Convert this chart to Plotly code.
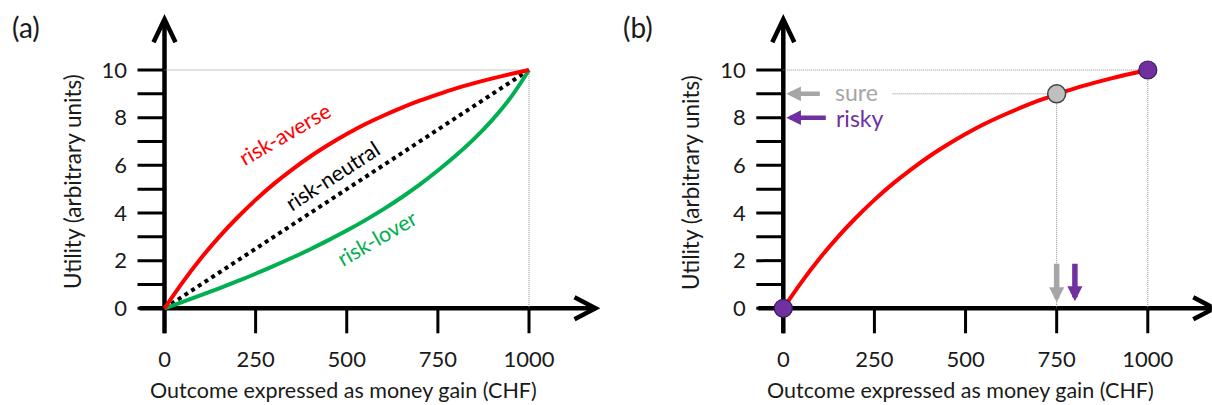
import plotly.graph_objects as go

# ---------------- data ----------------
money_ticks = [0, 250, 500, 750, 1000]
utility_ticks = [0, 2, 4, 6, 8, 10]
utility_tick_marks = [0, 1, 2, 3, 4, 5, 6, 7, 8, 9, 10]

gain = [0, 50, 100, 150, 200, 250, 300, 350, 400, 450, 500,
        550, 600, 650, 700, 750, 800, 850, 900, 950, 1000]
u_averse = [0, 1.10, 2.10, 3.00, 3.81, 4.55, 5.22, 5.82, 6.37, 6.86, 7.31,
            7.72, 8.08, 8.41, 8.71, 8.98, 9.23, 9.45, 9.65, 9.83, 10]
u_lover = [0, 0.27, 0.55, 0.84, 1.14, 1.45, 1.78, 2.12, 2.48, 2.86, 3.26,
           3.69, 4.15, 4.65, 5.19, 5.78, 6.42, 7.12, 7.92, 8.85, 10]
neutral_gain = [0, 1000]
u_neutral = [0, 10]

sure_gain = 750
sure_utility = 9
risky_gain = [0, 1000]
risky_utility = [0, 10]
risky_expected_gain = 800
risky_expected_utility = 8

# ---------------- styling / geometry ----------------
W, H = 1212, 405
FONT = "Lato"
TXT = "#1a1a1a"
RED = "#FF0000"
GREEN = "#00B050"
PURPLE = "#7030A0"
GREY = "#A6A6A6"
GUIDE = "#8c8c8c"

PX_X = 0.3645       # pixels per CHF
PX_Y = 23.83        # pixels per utility unit
OY = 308.3          # pixel row of utility 0
OXA, OXB = 164.5, 783.3   # pixel column of CHF 0 in each panel
Y_RANGE = [-1.5, 12.5]
XA_RANGE = [-100, 1200]
XB_RANGE = [-100, (W - OXB) / PX_X - 0.5]


def xdom(ox, rng):
    return [max(0, (ox + rng[0] * PX_X) / W), min(1, (ox + rng[1] * PX_X) / W)]


ydom = [1 - (OY - Y_RANGE[0] * PX_Y) / H, 1 - (OY - Y_RANGE[1] * PX_Y) / H]

fig = go.Figure()


def guide(xs, ys, xa, ya):
    fig.add_trace(go.Scatter(x=xs, y=ys, mode="lines", xaxis=xa, yaxis=ya,
                             line=dict(color=GUIDE, width=1, dash="1px,1px"),
                             hoverinfo="skip", showlegend=False))


# ---- panel (a) ----
guide([neutral_gain[0], neutral_gain[-1]], [u_neutral[-1], u_neutral[-1]], "x", "y")
guide([neutral_gain[-1], neutral_gain[-1]], [u_neutral[-1], u_neutral[0]], "x", "y")
fig.add_trace(go.Scatter(x=neutral_gain, y=u_neutral, mode="lines", xaxis="x", yaxis="y",
                         line=dict(color="black", width=4, dash="4px,4px"), showlegend=False))
fig.add_trace(go.Scatter(x=gain, y=u_lover, mode="lines", xaxis="x", yaxis="y",
                         line=dict(color=GREEN, width=4, shape="spline", smoothing=1),
                         showlegend=False))
fig.add_trace(go.Scatter(x=gain, y=u_averse, mode="lines", xaxis="x", yaxis="y",
                         line=dict(color=RED, width=4, shape="spline", smoothing=1),
                         showlegend=False))

# ---- panel (b) ----
guide([risky_gain[0], risky_gain[-1]], [risky_utility[-1], risky_utility[-1]], "x2", "y2")
guide([risky_gain[-1], risky_gain[-1]], [risky_utility[-1], risky_utility[0]], "x2", "y2")
guide([sure_gain, sure_gain], [sure_utility, 0], "x2", "y2")
guide([300, sure_gain], [sure_utility, sure_utility], "x2", "y2")
fig.add_trace(go.Scatter(x=gain, y=u_averse, mode="lines", xaxis="x2", yaxis="y2",
                         line=dict(color=RED, width=4, shape="spline", smoothing=1),
                         showlegend=False))
fig.add_trace(go.Scatter(x=[sure_gain], y=[sure_utility], mode="markers", xaxis="x2", yaxis="y2",
                         marker=dict(size=18, color="#BFBFBF", line=dict(color="#404040", width=1.5)),
                         showlegend=False))
fig.add_trace(go.Scatter(x=risky_gain, y=risky_utility, mode="markers", xaxis="x2", yaxis="y2",
                         marker=dict(size=18, color=PURPLE, line=dict(color="#3a1a55", width=1.2)),
                         showlegend=False, cliponaxis=False))

# ---- hand-drawn style axes (shapes) ----
shapes = []
for xr, yr in (("x", "y"), ("x2", "y2")):
    common = dict(xref=xr, yref=yr, layer="below", xsizemode="pixel", ysizemode="pixel",
                  xanchor=0, yanchor=0)
    shapes.append(dict(type="line", x0=0, x1=0, y0=-25, y1=288,
                       line=dict(color="black", width=4.5), **common))
    shapes.append(dict(type="path", path="M -11,266 L 0,289 L 11,266",
                       line=dict(color="black", width=4.5), **common))
    shapes.append(dict(type="line", x0=-25, x1=429, y0=0, y1=0,
                       line=dict(color="black", width=4.5), **common))
    shapes.append(dict(type="path", path="M 410,11 L 431,0 L 410,-11",
                       line=dict(color="black", width=4.5), **common))
    for v in utility_tick_marks:
        shapes.append(dict(type="line", xref=xr, yref=yr, layer="below",
                           xsizemode="pixel", xanchor=0, x0=-27, x1=0, y0=v, y1=v,
                           line=dict(color="black", width=3)))
    for v in money_ticks:
        shapes.append(dict(type="line", xref=xr, yref=yr, layer="below",
                           ysizemode="pixel", yanchor=0, y0=0, y1=-25, x0=v, x1=v,
                           line=dict(color="black", width=3)))

# ---- annotations ----
ann = []


def ptext(text, xc, yc, size, angle=0):
    ann.append(dict(text=text, x=xc / W, y=1 - yc / H, xref="paper", yref="paper",
                    xanchor="center", yanchor="middle", textangle=angle, showarrow=False,
                    font=dict(family=FONT, size=size, color=TXT)))


ptext("(a)", 26, 27, 28)
ptext("(b)", 638, 27, 28)
for xc in (72, 690):
    ptext("Utility (arbitrary units)", xc, 182, 22.5, -90)
for xc in (343, 960):
    ptext("Outcome expressed as money gain (CHF)", xc, 390, 21.5)

ann.append(dict(text="risk-averse", x=330, y=7.3, xref="x", yref="y", textangle=-30,
                xanchor="center", yanchor="middle",
                showarrow=False, font=dict(family=FONT, size=21.5, color=RED)))
ann.append(dict(text="risk-neutral", x=460, y=5.55, xref="x", yref="y", textangle=-33,
                xanchor="center", yanchor="middle",
                showarrow=False, font=dict(family=FONT, size=21.5, color="black")))
ann.append(dict(text="risk-lover", x=583, y=2.95, xref="x", yref="y", textangle=-30,
                xanchor="center", yanchor="middle",
                showarrow=False, font=dict(family=FONT, size=21.5, color=GREEN)))

# sure / risky arrows at the utility axis
ann.append(dict(text="", x=0, y=sure_utility, xref="x2", yref="y2", ax=38, ay=0,
                showarrow=True, arrowhead=2, arrowwidth=4.5, arrowsize=0.65,
                arrowcolor=GREY, standoff=3))
ann.append(dict(text="", x=0, y=risky_expected_utility, xref="x2", yref="y2", ax=44, ay=0,
                showarrow=True, arrowhead=2, arrowwidth=4.5, arrowsize=0.65,
                arrowcolor=PURPLE, standoff=3))
ann.append(dict(text="sure", x=0, y=sure_utility, xref="x2", yref="y2", xanchor="left",
                yanchor="middle", xshift=50, yshift=2, showarrow=False,
                font=dict(family=FONT, size=23, color=GREY)))
ann.append(dict(text="risky", x=0, y=risky_expected_utility, xref="x2", yref="y2",
                xanchor="left", yanchor="middle", xshift=51, yshift=0, showarrow=False,
                font=dict(family=FONT, size=23, color=PURPLE)))
# down arrows at the money axis
ann.append(dict(text="", x=sure_gain, y=0, xref="x2", yref="y2", ax=0, ay=-46,
                showarrow=True, arrowhead=2, arrowwidth=5.5, arrowsize=0.55,
                arrowcolor=GREY, standoff=6))
ann.append(dict(text="", x=risky_expected_gain, y=0, xref="x2", yref="y2", ax=0, ay=-46,
                showarrow=True, arrowhead=2, arrowwidth=5.5, arrowsize=0.55,
                arrowcolor=PURPLE, standoff=7))

axis_common = dict(showgrid=False, zeroline=False, showline=False, ticks="",
                   tickfont=dict(family=FONT, size=22, color=TXT), fixedrange=True)

fig.update_layout(
    width=W, height=H, margin=dict(l=0, r=0, t=0, b=0),
    paper_bgcolor="white", plot_bgcolor="white", showlegend=False,
    font=dict(family=FONT),
    xaxis=dict(domain=xdom(OXA, XA_RANGE), range=XA_RANGE, anchor="y",
               tickvals=money_ticks, ticktext=[str(v) for v in money_ticks], **axis_common),
    yaxis=dict(domain=ydom, range=Y_RANGE, anchor="x",
               tickvals=utility_ticks, ticktext=[str(v) for v in utility_ticks], **axis_common),
    xaxis2=dict(domain=xdom(OXB, XB_RANGE), range=XB_RANGE, anchor="y2",
                tickvals=money_ticks, ticktext=[str(v) for v in money_ticks], **axis_common),
    yaxis2=dict(domain=ydom, range=Y_RANGE, anchor="x2",
                tickvals=utility_ticks, ticktext=[str(v) for v in utility_ticks], **axis_common),
    shapes=shapes, annotations=ann,
)

fig.write_html("out.html")
